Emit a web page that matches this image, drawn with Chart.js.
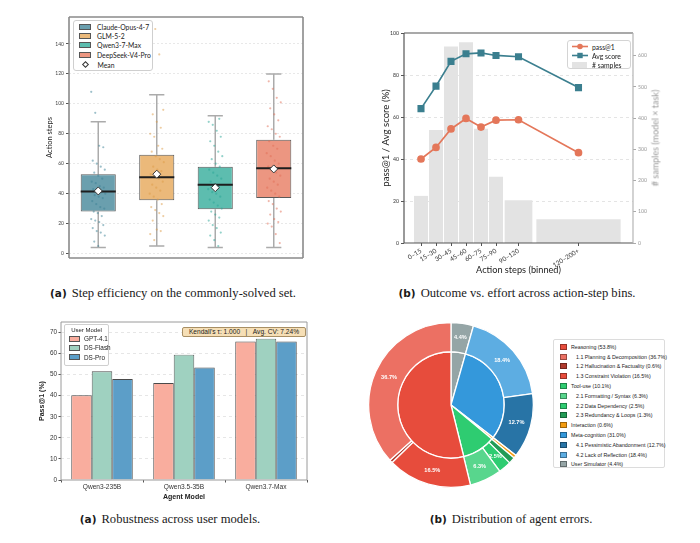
<!DOCTYPE html>
<html><head><meta charset="utf-8"><title>Agent evaluation figure</title>
<script src="https://cdn.jsdelivr.net/npm/chart.js@4.4.1/dist/chart.umd.min.js"></script>
<style>
html,body{margin:0;padding:0;background:#fff}
body{width:700px;height:543px;position:relative;overflow:hidden;font-family:Lato,"DejaVu Sans",sans-serif}
.pane{position:absolute}
.pane canvas{display:block}
.cap{position:absolute;transform:translate(-50%,-50%);white-space:nowrap;font-family:"Liberation Serif","DejaVu Serif",serif;font-size:12.6px;color:#1a1a1a}
.cap b{font-family:"DejaVu Sans",sans-serif;font-size:10.5px;margin-right:5px}
.lg{position:absolute;background:#fff;box-sizing:border-box;white-space:nowrap;color:#222}
.row{display:flex;align-items:center}
.patch{display:inline-block;box-sizing:border-box;flex:none}
.note{position:absolute;box-sizing:border-box;background:#f6dfb6;border:1px solid #a88f64;border-radius:2px;font-family:"Liberation Sans",Arial,sans-serif;color:#222;text-align:center;white-space:pre}
.rot{position:absolute;transform:translate(-50%,-50%) rotate(-90deg);white-space:nowrap}
</style></head><body>
<script>
// ---------------- data: (a) step efficiency ----------------
const boxModels = ['Claude-Opus-4-7', 'GLM-5-2', 'Qwen3-7-Max', 'DeepSeek-V4-Pro'];
const boxQ1 = [28, 35.5, 29.5, 37];
const boxMedian = [41.5, 51, 46, 57];
const boxQ3 = [53, 66, 58, 76];
const boxWhiskerLow = [4, 5, 4, 4];
const boxWhiskerHigh = [88, 106, 92, 120];
const boxMean = [41.8, 53, 44, 56.5];
const stepsClaude = [108, 94, 72, 71, 62, 60, 58, 56, 54, 52, 50, 48, 47, 45, 44, 43, 42, 41, 40, 39, 38, 37, 35, 33, 31, 30, 28, 27, 25, 23, 22, 21, 19, 17, 15, 14, 12, 8, 5];
const stepsGLM = [150, 133, 96, 93, 88, 84, 80, 78, 72, 70, 68, 65, 63, 61, 58, 56, 55, 53, 51, 50, 48, 46, 44, 42, 40, 38, 36, 33, 31, 29, 27, 25, 22, 16, 15, 13, 9];
const stepsQwen = [90, 88, 86, 82, 78, 75, 72, 68, 65, 63, 60, 58, 56, 54, 52, 50, 48, 46, 45, 43, 41, 40, 38, 36, 34, 32, 30, 28, 26, 24, 22, 19, 17, 14, 12, 9, 5];
const stepsDeepSeek = [115, 110, 104, 101, 97, 93, 89, 85, 83, 80, 78, 75, 72, 70, 67, 65, 62, 60, 58, 56, 54, 52, 50, 48, 46, 44, 42, 40, 38, 35, 33, 30, 28, 26, 23, 21, 20, 18, 13, 7];
const stepTicks = [0, 20, 40, 60, 80, 100, 120, 140];

// ---------------- data: (b) outcome vs effort ----------------
const binLabels = ['0–15', '15–30', '30–45', '45–60', '60–75', '75–90', '90–120', '120–200+'];
const binLo = [0, 15, 30, 45, 60, 75, 90, 120];
const binHi = [15, 30, 45, 60, 75, 90, 120, 210];
const passAt1 = [40, 45.5, 54.3, 59.3, 55.2, 58.5, 58.7, 43];
const avgScore = [64, 74.7, 86.5, 90.1, 90.5, 89.3, 88.7, 74];
const sampleCounts = [151, 362, 630, 643, 366, 212, 137, 76];
const scoreTicks = [0, 20, 40, 60, 80, 100];
const sampleTicks = [0, 100, 200, 300, 400, 500, 600];

// ---------------- data: (a) robustness across user models ----------------
const agentModels = ['Qwen3-235B', 'Qwen3.5-35B', 'Qwen3.7-Max'];
const userModels = ['GPT-4.1', 'DS-Flash', 'DS-Pro'];
const passGPT41 = [40.2, 46.0, 65.7];
const passDSFlash = [51.6, 59.5, 67.1];
const passDSPro = [47.9, 53.4, 65.7];
const passTicks = [0, 10, 20, 30, 40, 50, 60, 70];
const robustNote = "Kendall's τ: 1.000   |   Avg. CV: 7.24%";

// ---------------- data: (b) distribution of agent errors ----------------
const errCategories = ['Reasoning', 'Tool-use', 'Interaction', 'Meta-cognition', 'User Simulator'];
const errCategoryPct = [53.8, 10.1, 0.6, 31.0, 4.4];
const errSubtypes = ['1.1 Planning & Decomposition', '1.2 Hallucination & Factuality', '1.3 Constraint Violation', '2.1 Formatting / Syntax', '2.2 Data Dependency', '2.3 Redundancy & Loops', 'Interaction', '4.1 Pessimistic Abandonment', '4.2 Lack of Reflection', 'User Simulator'];
const errSubtypePct = [36.7, 0.6, 16.5, 6.3, 2.5, 1.3, 0.6, 12.7, 18.4, 4.4];
const errSubtypeParent = [0, 0, 0, 1, 1, 1, 2, 3, 3, 4];

// ---------------- styles ----------------
const colA = ['#6a9fae', '#ebb97a', '#5dbdaf', '#ec9681'];
const dotA = ['rgba(60,130,150,0.5)', 'rgba(222,155,70,0.5)', 'rgba(40,165,150,0.5)', 'rgba(225,110,85,0.5)'];
const colPass = '#e4775a', colAvg = '#3b7f8f', colBin = '#e3e3e3';
const colUser = ['#f9ad9e', '#9fd1c0', '#5c9ec8'];
const colCat = ['#e74c3c', '#2ecc71', '#f39c12', '#3498db', '#95a5a6'];
const colSub = ['#ec7063', '#b03a2e', '#e74c3c', '#58d68d', '#2ecc71', '#239b56', '#f39c12', '#2874a6', '#5dade2', '#95a5a6'];

Chart.defaults.font.family = 'Lato, "DejaVu Sans", sans-serif';
Chart.defaults.color = '#333';

function pane(L, T, W, H) {
  const d = document.createElement('div');
  d.className = 'pane';
  d.style.cssText = `left:${L}px;top:${T}px;width:${W}px;height:${H}px`;
  const c = document.createElement('canvas');
  d.appendChild(c);
  document.body.appendChild(d);
  return c;
}
function frame(sides) {
  return {
    id: 'frame',
    afterDatasetsDraw(chart) {
      const {ctx, chartArea: a} = chart;
      ctx.save();
      const seg = {top: [a.left, a.top, a.right, a.top], right: [a.right, a.top, a.right, a.bottom],
        bottom: [a.left, a.bottom, a.right, a.bottom], left: [a.left, a.top, a.left, a.bottom]};
      for (const k in sides) {
        const [c, w] = sides[k];
        ctx.strokeStyle = c; ctx.lineWidth = w;
        ctx.beginPath(); ctx.moveTo(seg[k][0], seg[k][1]); ctx.lineTo(seg[k][2], seg[k][3]); ctx.stroke();
      }
      ctx.restore();
    }
  };
}
function el(tag, cls, css, html) {
  const e = document.createElement(tag);
  if (cls) e.className = cls;
  if (css) e.style.cssText = css;
  if (html !== undefined) e.innerHTML = html;
  return e;
}
const esc = s => s.replace(/&/g, '&amp;').replace(/</g, '&lt;');
const common = {responsive: true, maintainAspectRatio: false, animation: false, events: [],
  plugins: {legend: {display: false}, tooltip: {enabled: false}}};

// ================= chart (a) top: box plots =================
(function () {
  const jitter = [stepsClaude, stepsGLM, stepsQwen, stepsDeepSeek];
  const jit = k => ((((k * 37) % 29) / 28) - 0.5) * 0.24;
  const ds = [];
  ds.push({type: 'scatter', xAxisID: 'xj', order: 0, data: boxMean.map((v, i) => ({x: i, y: v})),
    pointStyle: 'rectRot', pointRadius: 4, backgroundColor: '#fff', borderColor: '#333', borderWidth: 1});
  const med = [];
  boxMedian.forEach((m, i) => med.push({x: i - 0.3, y: m}, {x: i + 0.3, y: m}, {x: i, y: null}));
  ds.push({type: 'line', xAxisID: 'xj', order: 1, data: med, borderColor: '#1e1e1e', borderWidth: 2, pointRadius: 0, spanGaps: false, fill: false});
  jitter.forEach((arr, i) => ds.push({type: 'scatter', xAxisID: 'xj', order: 2,
    data: arr.map((v, k) => ({x: i + jit(k + i * 5), y: v})), pointRadius: 1.1, backgroundColor: dotA[i], borderWidth: 0}));
  boxModels.forEach((m, i) => ds.push({type: 'bar', label: m, order: 3, grouped: false,
    data: boxModels.map((_, j) => j === i ? [boxQ1[i], boxQ3[i]] : null),
    backgroundColor: colA[i], borderColor: '#5a5a5a', borderWidth: 1, borderSkipped: false,
    barPercentage: 0.6, categoryPercentage: 1}));
  boxModels.forEach((m, i) => {
    const h = 0.13, lo = boxWhiskerLow[i], hi = boxWhiskerHigh[i];
    ds.push({type: 'line', xAxisID: 'xj', order: 4, data: [
      {x: i, y: lo}, {x: i, y: boxQ1[i]}, {x: i, y: null},
      {x: i, y: boxQ3[i]}, {x: i, y: hi}, {x: i, y: null},
      {x: i - h, y: lo}, {x: i + h, y: lo}, {x: i, y: null},
      {x: i - h, y: hi}, {x: i + h, y: hi}],
      borderColor: '#ababab', borderWidth: 1.5, pointRadius: 0, spanGaps: false, fill: false});
  });
  new Chart(pane(0, 0, 350, 285), {
    type: 'bar',
    data: {labels: boxModels, datasets: ds},
    options: Object.assign({}, common, {
      layout: {padding: {left: 0, top: 17, right: 47, bottom: 27}},
      scales: {
        x: {display: false},
        xj: {type: 'linear', axis: 'x', position: 'bottom', display: false, offset: false, bounds: 'data', grace: 0, min: -0.5, max: 3.5},
        y: {min: -3, max: 158,
          afterBuildTicks: s => { s.ticks = stepTicks.map(v => ({value: v})); },
          afterFit: s => { s.width = 69; },
          ticks: {font: {size: 5}, color: '#444', padding: 2},
          grid: {color: '#e8e8e8', tickColor: '#555', tickLength: 3},
          border: {display: false, dash: [2, 2]},
          title: {display: true, text: 'Action steps', font: {size: 7.5}, color: '#222', padding: {top: 45, bottom: 0}}}
      }
    }),
    plugins: [frame({top: ['#8a8a8a', 1.6], right: ['#8a8a8a', 1.6], bottom: ['#8a8a8a', 1.6], left: ['#8a8a8a', 1.6]})]
  });
  // legend
  const lg = el('div', 'lg', 'left:73px;top:20px;width:80px;height:51px;border:1px solid #cfcfcf;border-radius:3px;padding-top:1px;font-size:6.8px;');
  boxModels.forEach((m, i) => lg.appendChild(el('div', 'row', 'height:9.4px',
    `<span class="patch" style="width:12px;height:6px;background:${colA[i]};border:0.8px solid #555;margin:0 6px 0 5px"></span>${esc(m)}`)));
  lg.appendChild(el('div', 'row', 'height:10px',
    `<span class="patch" style="width:5px;height:5px;background:#fff;border:0.8px solid #333;transform:rotate(45deg);margin:0 10px 0 8.5px"></span>Mean`));
  document.body.appendChild(lg);
})();

// ================= chart (b) top: outcome vs effort =================
(function () {
  const centers = binLo.map((lo, i) => (lo + binHi[i]) / 2);
  const ds = [
    {label: 'pass@1', data: centers.map((c, i) => ({x: c, y: passAt1[i]})), yAxisID: 'y', order: 0,
      borderColor: colPass, backgroundColor: colPass, borderWidth: 1.7, pointStyle: 'circle', pointRadius: 3},
    {label: 'Avg score', data: centers.map((c, i) => ({x: c, y: avgScore[i]})), yAxisID: 'y', order: 1,
      borderColor: colAvg, backgroundColor: colAvg, borderWidth: 1.7, pointStyle: 'rect', pointRadius: 3.8}
  ];
  centers.forEach((c, i) => {
    const w = (binHi[i] - binLo[i]) * 0.94;
    ds.push({label: '# samples', data: [{x: c - w / 2, y: sampleCounts[i]}, {x: c + w / 2, y: sampleCounts[i]}],
      yAxisID: 'y1', order: 5, fill: 'origin', backgroundColor: colBin, borderColor: 'rgba(0,0,0,0)', borderWidth: 0, pointRadius: 0});
  });
  new Chart(pane(350, 0, 350, 285), {
    type: 'line',
    data: {datasets: ds},
    options: Object.assign({}, common, {
      layout: {padding: {left: 0, top: 33, right: 0, bottom: 0}},
      scales: {
        x: {type: 'linear', min: -9.5, max: 219.5,
          afterBuildTicks: s => { s.ticks = centers.map(v => ({value: v})); },
          afterFit: s => { s.height = 42; },
          ticks: {callback: (v, i) => binLabels[i], autoSkip: false, minRotation: 32, maxRotation: 32, font: {size: 6.4}, color: '#333', padding: 1},
          grid: {drawOnChartArea: false, tickLength: 3, tickColor: '#555'},
          border: {display: false},
          title: {display: true, text: 'Action steps (binned)', font: {size: 9.2}, color: '#222', padding: {top: 0, bottom: 9}}},
        y: {position: 'left', min: 0, max: 100,
          afterBuildTicks: s => { s.ticks = scoreTicks.map(v => ({value: v})); },
          afterFit: s => { s.width = 54; },
          ticks: {font: {size: 5.2}, color: '#333', padding: 2},
          grid: {color: ctx => (ctx.tick && (ctx.tick.value === 0 || ctx.tick.value === 100)) ? 'rgba(0,0,0,0)' : '#e4e4e4', tickColor: '#555', tickLength: 3},
          border: {display: false, dash: [3, 3]},
          title: {display: true, text: 'pass@1 / Avg score (%)', font: {size: 9.6}, color: '#222', padding: {top: 30, bottom: 0}}},
        y1: {position: 'right', min: 0, max: 673,
          afterBuildTicks: s => { s.ticks = sampleTicks.map(v => ({value: v})); },
          afterFit: s => { s.width = 67; },
          ticks: {font: {size: 5.2}, color: '#999', padding: 2},
          grid: {drawOnChartArea: false, tickColor: '#aaa', tickLength: 3},
          border: {display: false}}
      }
    }),
    plugins: [frame({top: ['#555', 1.2], left: ['#555', 1.2], bottom: ['#555', 1.2], right: ['#b5b5b5', 1.2]})]
  });
  const t = el('div', 'rot', 'left:655px;top:138px;font-size:9px;color:#9a9a9a', '# samples (model × task)');
  document.body.appendChild(t);
  const lg = el('div', 'lg', 'left:567px;top:40px;width:64px;height:29px;border:1px solid #d4d4d4;border-radius:3px;padding-top:1px;font-size:6.8px;');
  lg.appendChild(el('div', 'row', 'height:9.2px',
    `<svg width="16" height="7" style="margin:0 4px 0 4px"><line x1="0" y1="3.5" x2="16" y2="3.5" stroke="${colPass}" stroke-width="1.6"/><circle cx="8" cy="3.5" r="2.8" fill="${colPass}"/></svg>pass@1`));
  lg.appendChild(el('div', 'row', 'height:9.2px',
    `<svg width="16" height="7" style="margin:0 4px 0 4px"><line x1="0" y1="3.5" x2="16" y2="3.5" stroke="${colAvg}" stroke-width="1.6"/><rect x="5.3" y="0.8" width="5.4" height="5.4" fill="${colAvg}"/></svg>Avg score`));
  lg.appendChild(el('div', 'row', 'height:9.2px',
    `<span class="patch" style="width:15px;height:6px;background:${colBin};margin:0 5px 0 4px"></span># samples`));
  document.body.appendChild(lg);
})();

// ================= chart (a) bottom: robustness =================
(function () {
  const series = [passGPT41, passDSFlash, passDSPro];
  new Chart(pane(0, 305, 350, 200), {
    type: 'bar',
    data: {labels: agentModels, datasets: userModels.map((u, i) => ({label: u, data: series[i],
      backgroundColor: colUser[i], borderColor: '#4a4a4a', borderWidth: 0.9, categoryPercentage: 0.75, barPercentage: 1}))},
    options: Object.assign({}, common, {
      font: {family: '"Liberation Sans", Arial, sans-serif'},
      layout: {padding: {left: 0, top: 17, right: 43, bottom: 1}},
      scales: {
        x: {afterFit: s => { s.height = 24; },
          ticks: {font: {size: 6.6, family: '"Liberation Sans", Arial, sans-serif'}, color: '#333', padding: 1},
          grid: {drawOnChartArea: false, tickLength: 2.5, tickColor: '#555'},
          border: {display: false},
          title: {display: true, text: 'Agent Model', font: {size: 7, weight: 'bold', family: '"Liberation Sans", Arial, sans-serif'}, color: '#222', padding: {top: 0, bottom: 2.5}}},
        y: {min: 0, max: 75,
          afterBuildTicks: s => { s.ticks = passTicks.map(v => ({value: v})); },
          afterFit: s => { s.width = 61; },
          ticks: {font: {size: 6.4, family: '"Liberation Sans", Arial, sans-serif'}, color: '#333', padding: 1.5},
          grid: {color: ctx => (ctx.tick && ctx.tick.value === 0) ? 'rgba(0,0,0,0)' : '#e6e6e6', tickColor: '#555', tickLength: 2.5},
          border: {display: false, dash: [3, 3]},
          title: {display: true, text: 'Pass@1 (%)', font: {size: 7, weight: 'bold', family: '"Liberation Sans", Arial, sans-serif'}, color: '#222', padding: {top: 38, bottom: 0}}}
      }
    }),
    plugins: [frame({top: ['#9a9a9a', 1], right: ['#9a9a9a', 1], bottom: ['#9a9a9a', 1], left: ['#9a9a9a', 1]})]
  });
  const lg = el('div', 'lg', 'left:64px;top:324px;width:45px;height:42px;border:1px solid #cfcfcf;border-radius:2px;font-family:"Liberation Sans",Arial,sans-serif;font-size:6.4px;');
  lg.appendChild(el('div', '', 'height:9px;line-height:10px;text-align:center;font-size:6px', 'User Model'));
  userModels.forEach((u, i) => lg.appendChild(el('div', 'row', 'height:9.3px',
    `<span class="patch" style="width:11px;height:6px;background:${colUser[i]};border:0.8px solid #555;margin:0 4px 0 4px"></span>${esc(u)}`)));
  document.body.appendChild(lg);
  const n = el('div', 'note', 'left:182px;top:327px;width:124px;height:10px;line-height:8.5px;font-size:6.6px;');
  n.textContent = robustNote;
  document.body.appendChild(n);
})();

// ================= chart (b) bottom: error distribution =================
(function () {
  // matplotlib draws counter-clockwise from the top; Chart.js draws clockwise, so reverse
  const subVals = errSubtypePct.slice().reverse();
  const subCols = colSub.slice().reverse();
  const catVals = errCategoryPct.slice().reverse();
  const catCols = colCat.slice().reverse();
  const labelPlugin = {
    id: 'ringLabels',
    afterDatasetsDraw(chart) {
      const ctx = chart.ctx;
      const meta = chart.getDatasetMeta(0);
      ctx.save();
      ctx.fillStyle = '#fff';
      ctx.font = 'bold 5.6px "Liberation Sans", Arial, sans-serif';
      ctx.textAlign = 'center'; ctx.textBaseline = 'middle';
      meta.data.forEach((arc, k) => {
        const v = subVals[k];
        if (v >= 2) { const p = arc.tooltipPosition(); ctx.fillText(v.toFixed(1) + '%', p.x, p.y); }
      });
      ctx.restore();
    }
  };
  new Chart(pane(367, 321, 168, 168), {
    type: 'doughnut',
    data: {labels: errSubtypes.slice().reverse(), datasets: [
      {data: subVals, backgroundColor: subCols, borderColor: '#fff', borderWidth: 1.3, weight: 29},
      {data: catVals, backgroundColor: catCols, borderColor: '#fff', borderWidth: 1.3, weight: 53}
    ]},
    options: Object.assign({}, common, {cutout: 0, layout: {padding: 1}}),
    plugins: [labelPlugin]
  });
  // legend (categories followed by their sub-types)
  const lg = el('div', 'lg', 'left:553px;top:339px;width:112px;height:129px;border:1px solid #dcdcdc;border-radius:2px;padding-top:2px;font-family:"Liberation Sans",Arial,sans-serif;font-size:5.3px;');
  const row = (col, txt, indent) => lg.appendChild(el('div', 'row', 'height:9.8px',
    `<span class="patch" style="width:7px;height:6px;background:${col};border:0.5px solid rgba(0,0,0,0.35);margin:0 ${indent ? 9 : 4}px 0 6px"></span>${esc(txt)}`));
  errCategories.forEach((c, ci) => {
    row(colCat[ci], `${c} (${errCategoryPct[ci].toFixed(1)}%)`, false);
    errSubtypes.forEach((s, si) => {
      if (errSubtypeParent[si] === ci && s !== c) row(colSub[si], `${s} (${errSubtypePct[si].toFixed(1)}%)`, true);
    });
  });
  document.body.appendChild(lg);
})();

// ================= captions =================
[[173, 293, '(a)', 'Step efficiency on the commonly-solved set.'],
 [517, 293, '(b)', 'Outcome vs. effort across action-step bins.'],
 [170, 519, '(a)', 'Robustness across user models.'],
 [511, 519, '(b)', 'Distribution of agent errors.']].forEach(([x, y, tag, txt]) => {
  const c = el('div', 'cap', `left:${x}px;top:${y}px`);
  c.appendChild(el('b', '', '', tag));
  c.appendChild(document.createTextNode(txt));
  document.body.appendChild(c);
});
</script>
</body></html>
